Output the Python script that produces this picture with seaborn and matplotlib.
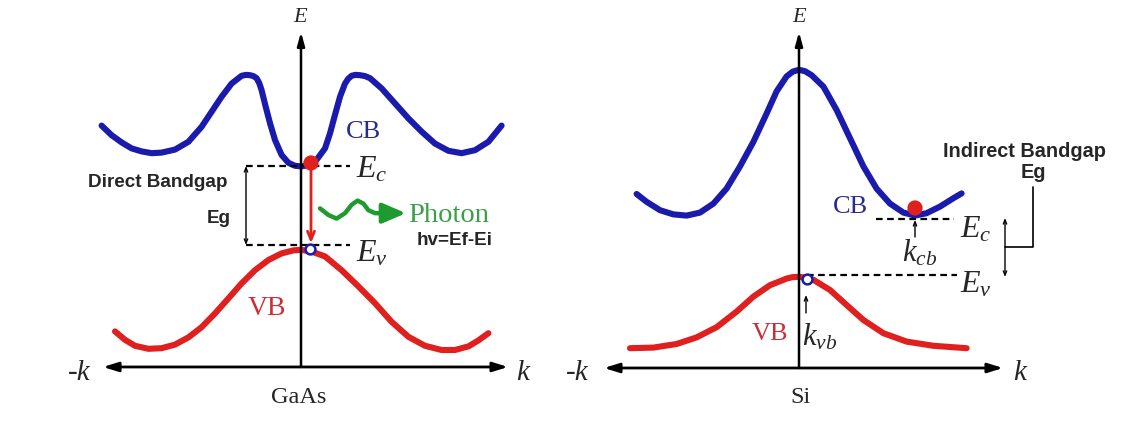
import matplotlib
matplotlib.use("Agg")
import matplotlib.pyplot as plt
import seaborn as sns

# band curves: k in units of the half axis, E in arbitrary units (Ev line = 0)
gaas_cb_k = [-0.997, -0.947, -0.897, -0.847, -0.797, -0.747, -0.697, -0.63, -0.563, -0.497, -0.447,
             -0.397, -0.347, -0.297, -0.275, -0.255, -0.238, -0.222, -0.209, -0.197, -0.177,
             -0.155, -0.13, -0.097, -0.063, -0.03, 0.0, 0.037, 0.078, 0.12, 0.145, 0.17, 0.195,
             0.22, 0.236, 0.253, 0.272, 0.295, 0.32, 0.345, 0.403, 0.47, 0.537, 0.603, 0.67,
             0.737, 0.803, 0.87, 0.937, 1.003]
gaas_cb_E = [1.99, 1.83, 1.71, 1.61, 1.56, 1.53, 1.54, 1.59, 1.72, 1.97, 2.22, 2.47, 2.69, 2.82,
             2.835, 2.83, 2.815, 2.78, 2.70, 2.58, 2.31, 2.03, 1.75, 1.50, 1.37, 1.32, 1.31,
             1.33, 1.42, 1.61, 1.86, 2.17, 2.47, 2.69, 2.77, 2.82, 2.835, 2.83, 2.815, 2.78,
             2.61, 2.36, 2.11, 1.89, 1.69, 1.57, 1.53, 1.58, 1.72, 1.99]
gaas_vb_k = [-0.93, -0.88, -0.83, -0.763, -0.697, -0.63, -0.563, -0.497, -0.43, -0.363, -0.297,
             -0.23, -0.163, -0.097, -0.038, 0.0, 0.053, 0.12, 0.203, 0.287, 0.37, 0.453, 0.537,
             0.62, 0.703, 0.77, 0.837, 0.887, 0.937]
gaas_vb_E = [-1.44, -1.58, -1.68, -1.73, -1.72, -1.66, -1.54, -1.37, -1.14, -0.89, -0.64, -0.42,
             -0.25, -0.14, -0.09, -0.08, -0.11, -0.19, -0.42, -0.69, -0.97, -1.28, -1.53, -1.68,
             -1.75, -1.75, -1.69, -1.59, -1.47]

si_cb_k = [-0.812, -0.762, -0.695, -0.628, -0.562, -0.495, -0.428, -0.362, -0.295, -0.228, -0.162,
           -0.112, -0.062, -0.031, 0.0, 0.031, 0.063, 0.122, 0.188, 0.255, 0.322, 0.388, 0.455,
           0.522, 0.58, 0.638, 0.705, 0.772, 0.813]
si_cb_E = [1.35, 1.22, 1.08, 1.01, 0.99, 1.04, 1.19, 1.44, 1.81, 2.22, 2.69, 3.06, 3.31, 3.39,
           3.42, 3.395, 3.33, 3.14, 2.75, 2.28, 1.81, 1.44, 1.19, 1.04, 0.99, 1.03, 1.14, 1.28,
           1.36]
si_vb_k = [-0.845, -0.728, -0.612, -0.512, -0.412, -0.312, -0.228, -0.145, -0.062, -0.031, 0.0,
           0.036, 0.072, 0.155, 0.238, 0.322, 0.422, 0.538, 0.672, 0.838]
si_vb_E = [-1.22, -1.21, -1.15, -1.04, -0.87, -0.61, -0.36, -0.17, -0.06, -0.035, -0.03, -0.045,
           -0.08, -0.25, -0.50, -0.75, -0.97, -1.11, -1.18, -1.22]

# photon squiggle
photon_k = [0.095, 0.137, 0.178, 0.22, 0.253, 0.283, 0.312, 0.337, 0.37, 0.403]
photon_E = [0.61, 0.50, 0.44, 0.53, 0.67, 0.74, 0.69, 0.58, 0.53, 0.53]

# band edges and carriers
gaas_Ec, gaas_Ev = 1.317, 0.0
si_Ec, si_Ev = 0.933, 0.0
gaas_electron = (0.05, 1.367)
gaas_hole = (0.045, -0.067)
si_electron = (0.58, 1.117)
si_hole = (0.04, -0.067)

blue = "#1a1aad"
red = "#e0201f"
green = "#1e9b2e"

sns.set_style("white")
plt.rcParams["font.family"] = ["Liberation Serif", "DejaVu Serif"]
plt.rcParams["mathtext.fontset"] = "custom"
plt.rcParams["mathtext.it"] = "Liberation Serif:italic"
plt.rcParams["mathtext.rm"] = "Liberation Serif"

fig = plt.figure(figsize=(11.41, 4.40), dpi=100)
fig.patch.set_facecolor("white")
ax1 = fig.add_axes([0, 0, 0.5, 1])
ax2 = fig.add_axes([0.5, 0, 0.5, 1])
ax1.set_xlim(-1.505, 1.3475)
ax1.set_ylim(-3.25, 4.083)
ax2.set_xlim(-1.1425, 1.71)
ax2.set_ylim(-2.75, 4.583)
for ax in (ax1, ax2):
    ax.axis("off")

line_kw = dict(lw=4.4, sort=False, estimator=None, solid_capstyle="round", solid_joinstyle="round")
sns.lineplot(x=gaas_cb_k, y=gaas_cb_E, color=blue, ax=ax1, **line_kw)
sns.lineplot(x=gaas_vb_k, y=gaas_vb_E, color=red, ax=ax1, **line_kw)
sns.lineplot(x=si_cb_k, y=si_cb_E, color=blue, ax=ax2, **line_kw)
sns.lineplot(x=si_vb_k, y=si_vb_E, color=red, ax=ax2, **line_kw)


def axes_arrows(ax, k_lo, k_hi, e_base, e_top):
    ax.annotate("", xy=(k_lo, e_base), xytext=(k_hi, e_base),
                arrowprops=dict(arrowstyle="<|-|>,head_length=0.9,head_width=0.28",
                                lw=2, color="black", shrinkA=0, shrinkB=0))
    ax.annotate("", xy=(0, e_top), xytext=(0, e_base),
                arrowprops=dict(arrowstyle="-|>,head_length=0.8,head_width=0.22",
                                lw=1.8, color="black", shrinkA=0, shrinkB=0))


dash = dict(color="black", lw=1.6, ls=(0, (3, 2)))
thin_arrow = dict(arrowstyle="<->,head_length=0.3,head_width=0.12", lw=1, color="black",
                  shrinkA=0, shrinkB=0)
sans_bold = dict(family="Liberation Sans", weight="bold", va="baseline")

# ---- GaAs panel ----
axes_arrows(ax1, -0.99, 1.035, -2.033, 3.55)
ax1.text(-0.005, 3.72, "E", fontsize=16, style="italic", ha="center", va="baseline")
ax1.text(-1.107, -2.25, "-k", fontsize=21, style="italic", ha="center", va="baseline")
ax1.text(1.11, -2.25, "k", fontsize=21, style="italic", ha="center", va="baseline")
ax1.text(-0.01, -2.633, "GaAs", fontsize=17.5, ha="center", va="baseline")

ax1.plot([-0.275, 0.245], [gaas_Ec, gaas_Ec], **dash)
ax1.plot([-0.275, 0.245], [gaas_Ev, gaas_Ev], **dash)
ax1.annotate("", xy=(-0.275, gaas_Ev), xytext=(-0.275, gaas_Ec), arrowprops=thin_arrow)
ax1.text(-0.715, 0.972, "Direct Bandgap", fontsize=13.6, ha="center", **sans_bold)
ax1.text(-0.41, 0.367, "Eg", fontsize=13.6, ha="center", **sans_bold)

ax1.annotate("", xy=(0.05, 0.03), xytext=(0.05, gaas_Ec),
             arrowprops=dict(arrowstyle="->,head_length=0.6,head_width=0.25", lw=2,
                             color=red, shrinkA=0, shrinkB=0))
sns.scatterplot(x=[gaas_electron[0]], y=[gaas_electron[1]], s=120, color=red,
                edgecolor="none", zorder=5, ax=ax1)
sns.scatterplot(x=[gaas_hole[0]], y=[gaas_hole[1]], s=50, color="white", edgecolor=blue,
                linewidth=1.8, zorder=5, ax=ax1)

sns.lineplot(x=photon_k, y=photon_E, color=green, lw=3.2, sort=False, estimator=None, ax=ax1)
ax1.annotate("", xy=(0.525, 0.53), xytext=(0.39, 0.53),
             arrowprops=dict(arrowstyle="-|>,head_length=1.4,head_width=0.6", lw=3.2,
                             color=green, shrinkA=0, shrinkB=0))
ax1.text(0.535, 0.383, "Photon", fontsize=20.5, color="#3a9f48", ha="left", va="baseline")
ax1.text(0.58, 0.0, "hv=Ef-Ei", fontsize=13.6, ha="left", **sans_bold)

ax1.text(0.275, 1.117, r"$E_c$", fontsize=23, ha="left", va="baseline")
ax1.text(0.275, -0.283, r"$E_v$", fontsize=23, ha="left", va="baseline")
ax1.text(0.31, 1.783, "CB", fontsize=19, color="#2b2b8c", ha="center", va="baseline")
ax1.text(-0.172, -1.167, "VB", fontsize=20, color="#cc2d35", ha="center", va="baseline")

# ---- Si panel ----
axes_arrows(ax2, -0.975, 1.02, -1.55, 4.05)
ax2.text(0.0, 4.217, "E", fontsize=16, style="italic", ha="center", va="baseline")
ax2.text(-1.11, -1.75, "-k", fontsize=21, style="italic", ha="center", va="baseline")
ax2.text(1.105, -1.75, "k", fontsize=21, style="italic", ha="center", va="baseline")
ax2.text(0.01, -2.133, "Si", fontsize=17.5, ha="center", va="baseline")

ax2.plot([0.385, 0.775], [si_Ec, si_Ec], **dash)
ax2.plot([0.04, 0.79], [si_Ev, si_Ev], **dash)

sns.scatterplot(x=[si_electron[0]], y=[si_electron[1]], s=120, color=red,
                edgecolor="none", zorder=5, ax=ax2)
sns.scatterplot(x=[si_hole[0]], y=[si_hole[1]], s=50, color="white", edgecolor=blue,
                linewidth=1.8, zorder=5, ax=ax2)

small_up = dict(arrowstyle="->,head_length=0.3,head_width=0.12", lw=1, color="black",
                shrinkA=0, shrinkB=0)
ax2.annotate("", xy=(0.58, 0.917), xytext=(0.58, 0.633), arrowprops=small_up)
ax2.annotate("", xy=(0.035, -0.333), xytext=(0.035, -0.633), arrowprops=small_up)
ax2.text(0.515, 0.217, r"$k_{cb}$", fontsize=22, ha="left", va="baseline")
ax2.text(0.015, -1.167, r"$k_{vb}$", fontsize=22, ha="left", va="baseline")

ax2.text(0.805, 0.633, r"$E_c$", fontsize=23, ha="left", va="baseline")
ax2.text(0.805, -0.3, r"$E_v$", fontsize=23, ha="left", va="baseline")
ax2.text(0.255, 1.033, "CB", fontsize=19, color="#2b2b8c", ha="center", va="baseline")
ax2.text(-0.145, -1.083, "VB", fontsize=19, color="#cc2d35", ha="center", va="baseline")

ax2.annotate("", xy=(1.03, -0.033), xytext=(1.03, 0.95), arrowprops=thin_arrow)
ax2.plot([1.03, 1.17, 1.17], [0.467, 0.467, 1.467], color="black", lw=1.2)
ax2.text(1.125, 1.967, "Indirect Bandgap", fontsize=14.3, ha="center", **sans_bold)
ax2.text(1.17, 1.617, "Eg", fontsize=14.3, ha="center", **sans_bold)

fig.savefig("out.png", dpi=100)
